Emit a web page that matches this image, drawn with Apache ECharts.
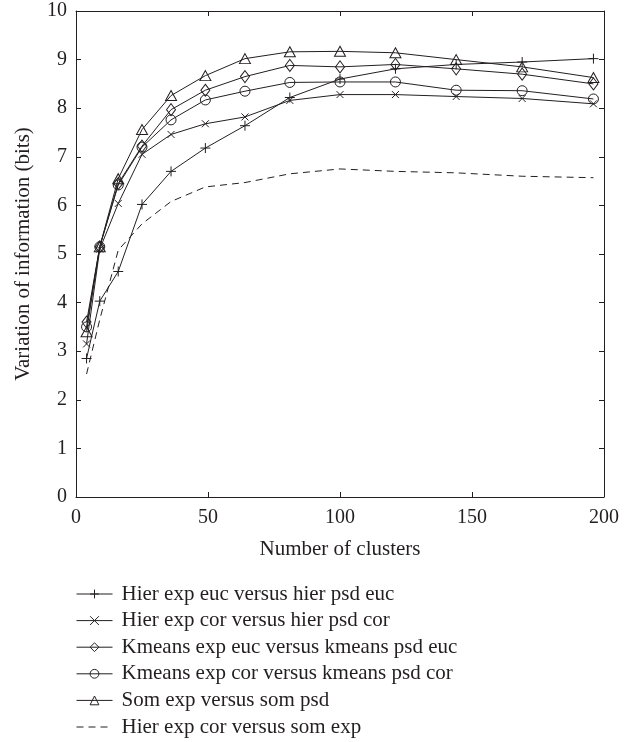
<!DOCTYPE html>
<html>
<head>
<meta charset="utf-8">
<script src="https://cdn.jsdelivr.net/npm/echarts@6/dist/echarts.min.js"></script>
<style>
  html, body { margin: 0; padding: 0; background: #fff; }
  #chart { width: 633px; height: 742px; }
</style>
</head>
<body>
<div id="chart"></div>
<script>
// number of clusters on the x axis
var clusters = [4, 9, 16, 25, 36, 49, 64, 81, 100, 121, 144, 169, 196];

// variation of information (bits), one array per comparison
var hierEuc   = [2.85, 4.03, 4.64, 6.02, 6.70, 7.18, 7.64, 8.22, 8.60, 8.81, 8.90, 8.95, 9.02];
var hierCor   = [3.15, 5.10, 6.04, 7.05, 7.46, 7.68, 7.82, 8.16, 8.28, 8.28, 8.24, 8.20, 8.09];
var kmeansEuc = [3.60, 5.15, 6.45, 7.22, 7.97, 8.37, 8.65, 8.88, 8.85, 8.90, 8.81, 8.70, 8.50];
var kmeansCor = [3.50, 5.15, 6.42, 7.20, 7.76, 8.17, 8.35, 8.53, 8.54, 8.54, 8.37, 8.36, 8.19];
var somPsd    = [3.40, 5.15, 6.55, 7.56, 8.26, 8.67, 9.02, 9.16, 9.17, 9.14, 9.00, 8.85, 8.63];
var hierSom   = [2.53, 3.65, 5.08, 5.62, 6.08, 6.38, 6.47, 6.65, 6.75, 6.70, 6.67, 6.60, 6.57];

var names = [
  'Hier exp euc versus hier psd euc',
  'Hier exp cor versus hier psd cor',
  'Kmeans exp euc versus kmeans psd euc',
  'Kmeans exp cor versus kmeans psd cor',
  'Som exp versus som psd',
  'Hier exp cor versus som exp'
];

var INK = '#231f20';
var FONT = 'Liberation Serif';

function pairs(ys) {
  return clusters.map(function (x, i) { return [x, ys[i]]; });
}

function lineSeries(name, ys, symbol, size, dashed) {
  return {
    name: name,
    type: 'line',
    data: pairs(ys),
    symbol: symbol,
    symbolSize: size,
    showSymbol: symbol !== 'none',
    lineStyle: { color: INK, width: 1, type: dashed ? [7, 5] : 'solid' },
    itemStyle: { color: 'rgba(0,0,0,0)', borderColor: INK, borderWidth: 1 },
    emphasis: { disabled: true },
    z: 3
  };
}

var PLUS = 'path://M5,0L5,10M0,5L10,5';
var CROSS = 'path://M0,0L10,10M0,10L10,0';

var chart = echarts.init(document.getElementById('chart'));

var tickIn = { show: true, inside: true, length: 5, lineStyle: { color: INK } };
var axisLine = { show: true, onZero: false, lineStyle: { color: INK, width: 1 } };

var option = {
  animation: false,
  textStyle: { fontFamily: FONT, color: INK },
  grid: { left: 76, right: 29, top: 11, bottom: 245, containLabel: false },
  xAxis: [
    {
      type: 'value', min: 0, max: 200, interval: 50,
      name: 'Number of clusters', nameLocation: 'middle', nameGap: 42,
      nameTextStyle: { fontFamily: FONT, fontSize: 21, color: INK },
      axisLine: axisLine, axisTick: tickIn, splitLine: { show: false },
      axisLabel: { fontFamily: FONT, fontSize: 20, color: INK, margin: 11 }
    },
    {
      type: 'value', min: 0, max: 200, interval: 50, position: 'top',
      axisLine: axisLine, axisTick: tickIn, splitLine: { show: false },
      axisLabel: { show: false }
    }
  ],
  yAxis: [
    {
      type: 'value', min: 0, max: 10, interval: 1,
      name: 'Variation of information (bits)', nameLocation: 'middle', nameGap: 42,
      nameTextStyle: { fontFamily: FONT, fontSize: 21, color: INK },
      axisLine: axisLine, axisTick: tickIn, splitLine: { show: false },
      axisLabel: { fontFamily: FONT, fontSize: 20, color: INK, margin: 9 }
    },
    {
      type: 'value', min: 0, max: 10, interval: 1, position: 'right',
      axisLine: axisLine, axisTick: tickIn, splitLine: { show: false },
      axisLabel: { show: false }
    }
  ],
  legend: {
    orient: 'vertical',
    left: 76,
    top: 583.5,
    padding: 0,
    itemWidth: 36,
    itemHeight: 11,
    itemGap: 5.6,
    selectedMode: false,
    lineStyle: { width: 1 },
    itemStyle: { borderWidth: 1 },
    textStyle: { fontFamily: FONT, fontSize: 21, color: INK, lineHeight: 21, padding: [0, 0, 0, 4] },
    data: [
      { name: names[0] },
      { name: names[1] },
      { name: names[2] },
      { name: names[3] },
      { name: names[4] },
      { name: names[5], itemStyle: { opacity: 0 } }
    ]
  },
  series: [
    lineSeries(names[0], hierEuc, PLUS, 10, false),
    lineSeries(names[1], hierCor, CROSS, 7, false),
    lineSeries(names[2], kmeansEuc, 'diamond', [9, 12], false),
    lineSeries(names[3], kmeansCor, 'circle', 10, false),
    lineSeries(names[4], somPsd, 'triangle', [11, 10], false),
    lineSeries(names[5], hierSom, 'none', 0, true)
  ]
};

option && chart.setOption(option);
</script>
</body>
</html>
